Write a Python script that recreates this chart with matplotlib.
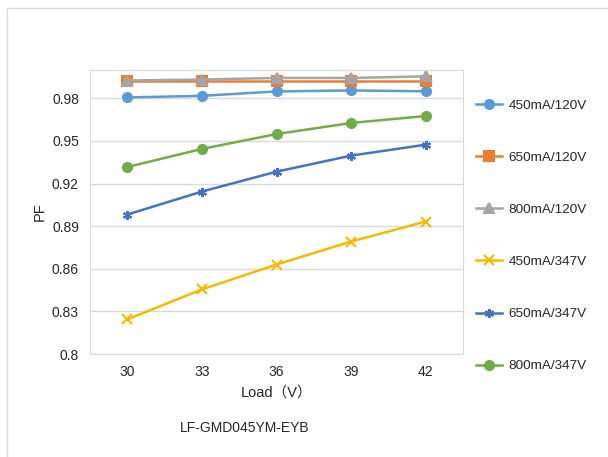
import matplotlib.pyplot as plt
from matplotlib.patches import Rectangle

plt.rcParams['font.family'] = ['Liberation Sans', 'Noto Sans CJK SC', 'DejaVu Sans']

loads = ['30', '33', '36', '39', '42']
pf_450_120 = [0.9807, 0.9818, 0.9849, 0.9856, 0.9850]
pf_650_120 = [0.9920, 0.9920, 0.9920, 0.9920, 0.9920]
pf_800_120 = [0.9926, 0.9933, 0.9944, 0.9944, 0.9955]
pf_450_347 = [0.8244, 0.8455, 0.8630, 0.8792, 0.8933]
pf_650_347 = [0.8982, 0.9144, 0.9284, 0.9397, 0.9474]
pf_800_347 = [0.9317, 0.9444, 0.9549, 0.9627, 0.9676]

series = [
    ('450mA/120V', pf_450_120, '#5B9BD5', 'o'),
    ('650mA/120V', pf_650_120, '#ED7D31', 's'),
    ('800mA/120V', pf_800_120, '#A5A5A5', '^'),
    ('450mA/347V', pf_450_347, '#F5BA00', 'x'),
    ('650mA/347V', pf_650_347, '#4472C4', (6, 2, 0)),
    ('800mA/347V', pf_800_347, '#70AD47', 'o'),
]

fig = plt.figure(figsize=(6.08, 4.57), dpi=100)
# light frame around the chart area
fig.patches.append(Rectangle((7 / 608, -0.1), 1.2, 1 - 8 / 457 + 0.1,
                             transform=fig.transFigure, fill=False,
                             edgecolor='#D9D9D9', linewidth=1))
ax = fig.add_axes([90 / 608, 103 / 457, 373 / 608, 284 / 457])

x = range(len(loads))
for label, vals, color, marker in series:
    ax.plot(x, vals, color=color, marker=marker, markersize=6.5,
            markeredgewidth=1.5, linewidth=1.8, label=label)

ax.set_xlim(-0.5, len(loads) - 0.5)
ax.set_ylim(0.8, 1.0)
yticks = [0.8, 0.83, 0.86, 0.89, 0.92, 0.95, 0.98]
ax.set_yticks(yticks)
ax.set_yticklabels(['%g' % t for t in yticks])
ax.set_xticks(list(x))
ax.set_xticklabels(loads)
ax.tick_params(length=0, labelsize=10, colors='#262626', pad=8)
ax.grid(axis='y', color='#D9D9D9', linewidth=1)
ax.set_axisbelow(True)
for s in ax.spines.values():
    s.set_color('#D9D9D9')

ax.set_ylabel('PF', fontsize=10.5, color='#262626', labelpad=4)
ax.set_xlabel('Load（V）', fontsize=10.5, color='#262626', labelpad=5)
fig.text(245 / 608, 1 - 428 / 457, 'LF-GMD045YM-EYB', ha='center', va='center',
         fontsize=10, color='#262626')

fig.legend(loc='upper left', bbox_to_anchor=(464 / 608, 1 - 87 / 457),
           frameon=False, fontsize=9.7, labelspacing=2.95, handlelength=1.9,
           handletextpad=0.5, labelcolor='#262626')

fig.savefig('out.png', dpi=100)
